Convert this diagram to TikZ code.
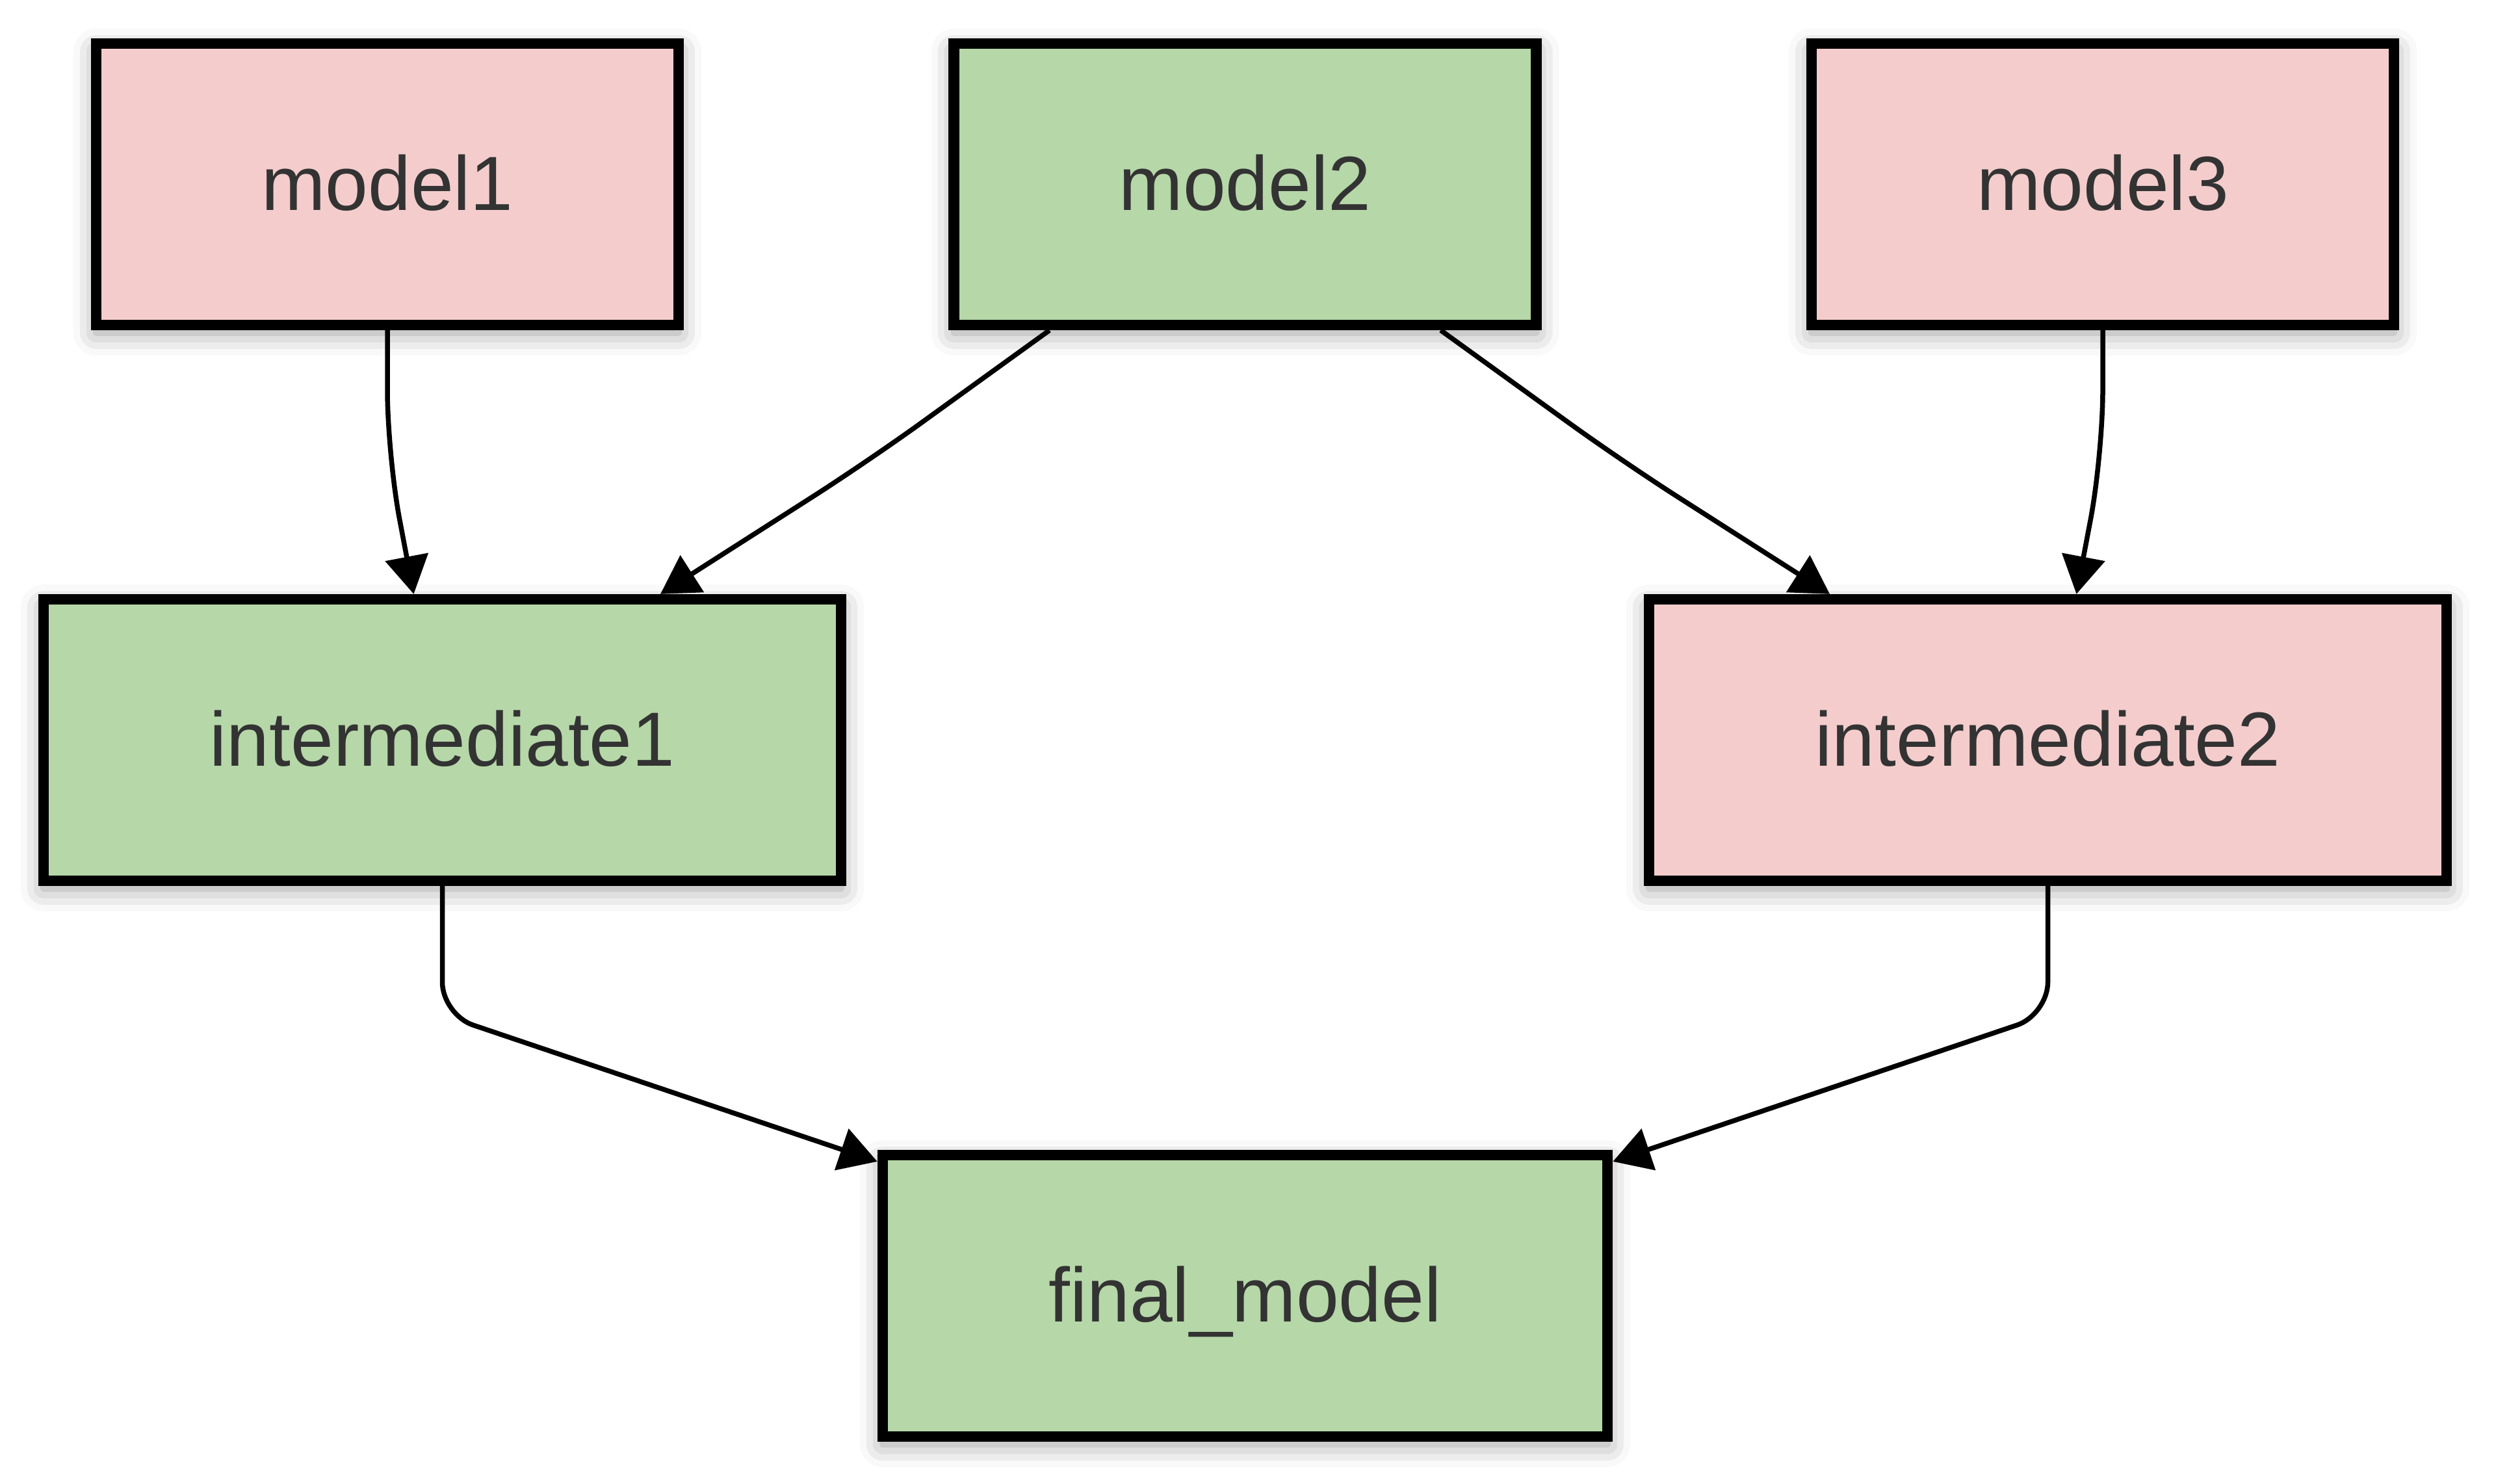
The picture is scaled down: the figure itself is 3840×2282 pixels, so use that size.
\documentclass[tikz,border=0pt]{standalone}
\usepackage{fontspec}
\setmainfont{Liberation Sans}
\usetikzlibrary{arrows.meta,shadows.blur,calc}
\definecolor{pinkfill}{HTML}{F4CCCC}
\definecolor{greenfill}{HTML}{B6D7A8}
\definecolor{txt}{HTML}{333333}
\begin{document}
\begin{tikzpicture}[x=0.01cm,y=-0.01cm,
  box/.style={draw=black, line width=0.165cm, rectangle, text=txt,
    font=\fontsize{33.6}{40}\selectfont, text height=0.79cm, text depth=0pt, inner sep=0pt,
    blur shadow={shadow xshift=0cm, shadow yshift=-0.12cm, shadow blur radius=0.35cm, shadow opacity=40}},
  topbox/.style={box, minimum width=8.955cm, minimum height=4.325cm},
  midbox/.style={box, minimum width=12.265cm, minimum height=4.325cm},
  lowbox/.style={box, minimum width=11.145cm, minimum height=4.325cm},
  pinkbox/.style={fill=pinkfill},
  greenbox/.style={fill=greenfill},
  arr/.style={draw=black, line width=0.075cm, -{Triangle[length=0.58cm,width=0.66cm]}},
  gentle/.style={arr, rounded corners=1cm},
  sharp/.style={arr, rounded corners=0.5cm}]
\useasboundingbox (0,0) rectangle (3840,2282);

\node[topbox, pinkbox]  (m1) at (596,283.5)  {model1};
\node[topbox, greenbox] (m2) at (1915.5,283.5) {model2};
\node[topbox, pinkbox]  (m3) at (3235,283.5) {model3};
\node[midbox, greenbox] (i1) at (680.5,1138.5) {intermediate1};
\node[midbox, pinkbox]  (i2) at (3150.5,1138.5) {intermediate2};
\node[lowbox, greenbox] (f)  at (1915.5,1993.5) {final\_model};

\coordinate (k1) at (596,700);
\coordinate (k2) at (1335,710);
\coordinate (k3) at (2496,710);
\coordinate (k4) at (3235,700);
\coordinate (k5) at (680.5,1561);
\coordinate (k6) at (3150.5,1561);

\draw[gentle] (m1.south) -- (k1) -- ($(i1.north)+(-44,0)$);
\draw[gentle] ($(m2.south)+(-301,0)$) -- (k2) -- ($(i1.north)+(335.5,0)$);
\draw[gentle] ($(m2.south)+(301,0)$) -- (k3) -- ($(i2.north)+(-335.5,0)$);
\draw[gentle] (m3.south) -- (k4) -- ($(i2.north)+(44,0)$);
\draw[sharp] (i1.south) -- (k5) -- ($(f.north west)+(0,18)$);
\draw[sharp] (i2.south) -- (k6) -- ($(f.north east)+(0,18)$);
\end{tikzpicture}
\end{document}
